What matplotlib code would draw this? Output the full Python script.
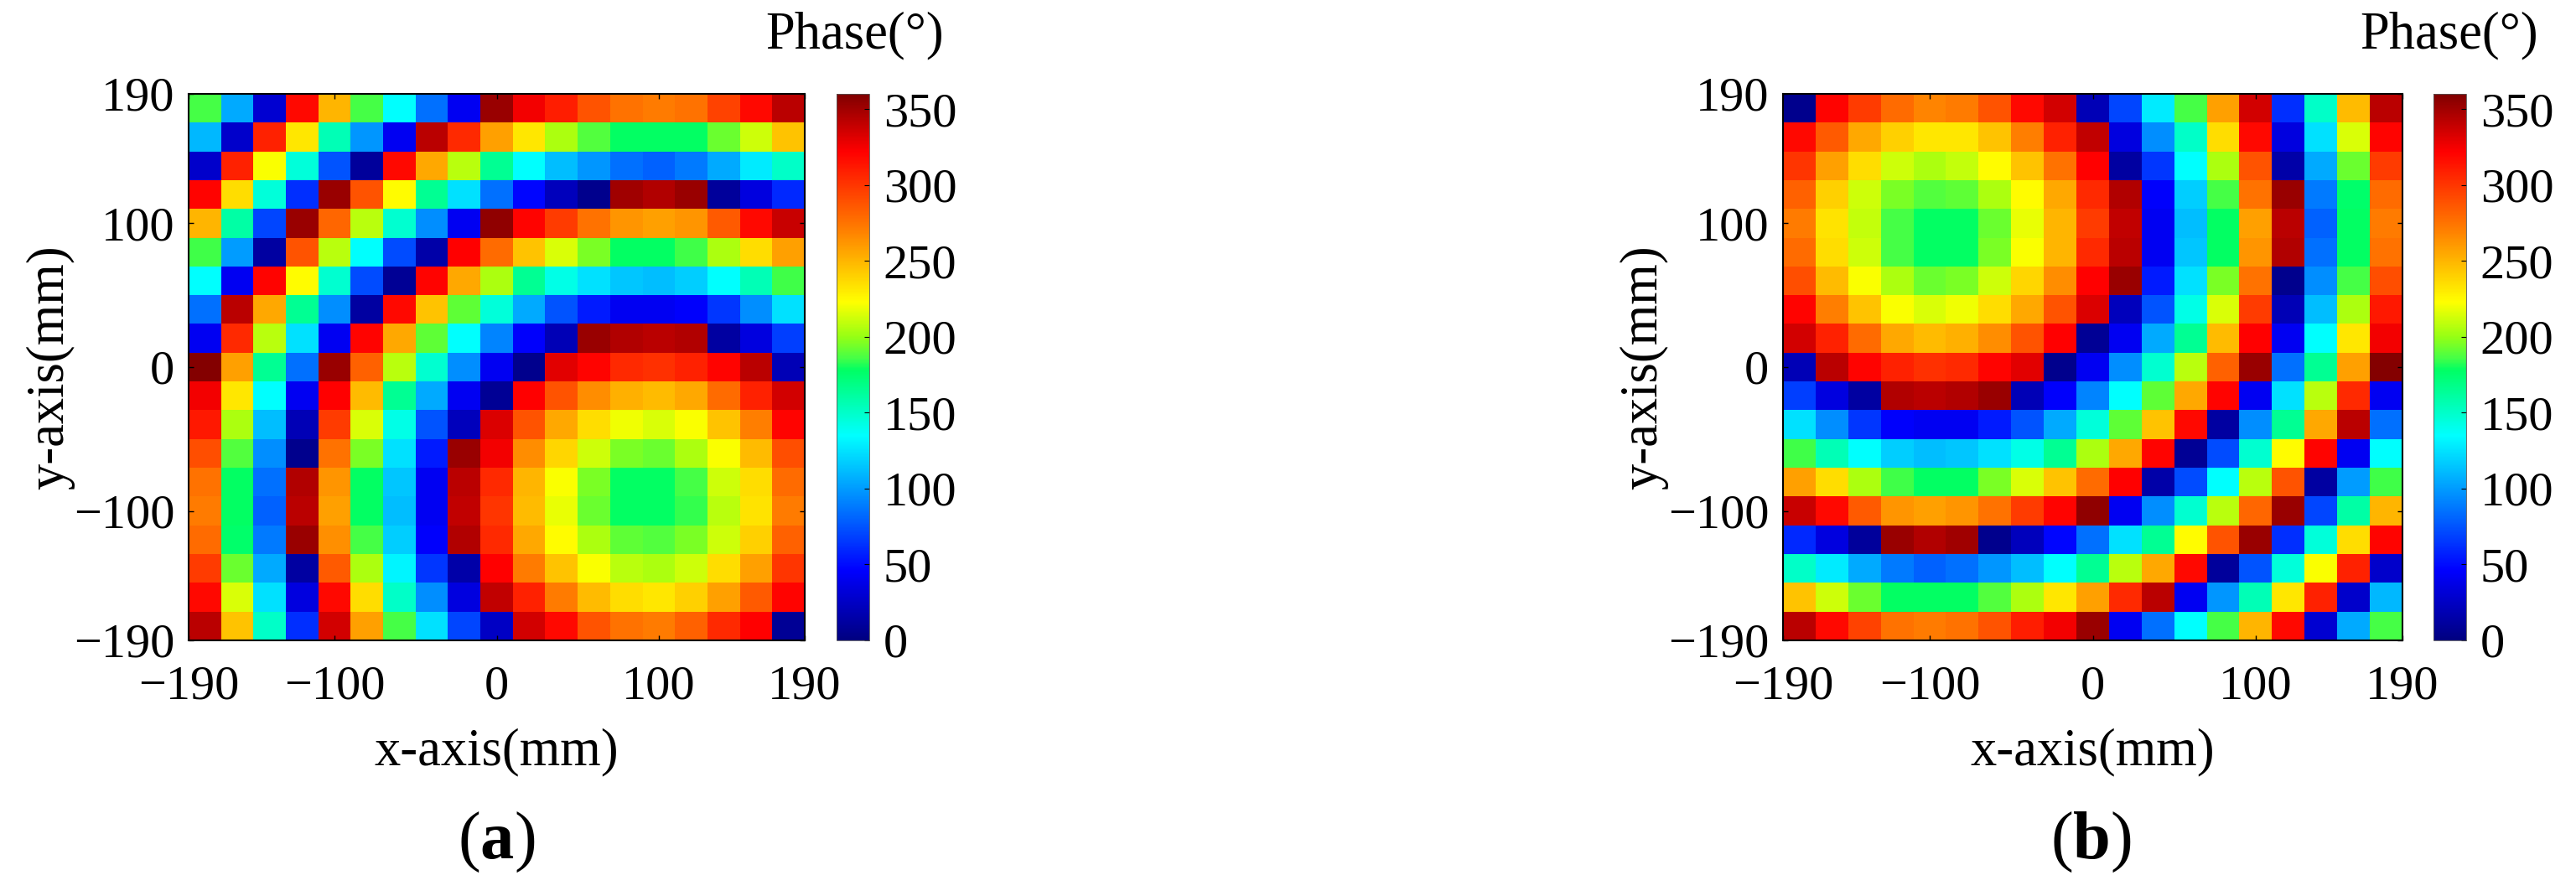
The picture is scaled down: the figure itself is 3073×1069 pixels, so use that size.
import numpy as np
import matplotlib
matplotlib.use("Agg")
import matplotlib.pyplot as plt
from matplotlib.colors import LinearSegmentedColormap

phase_a = [
[186,105,30,318,250,186,135,85,42,352,325,310,288,275,272,275,295,318,342],
[110,28,308,232,155,98,42,342,305,258,232,205,188,178,178,178,192,212,245],
[28,308,222,145,75,10,318,255,208,165,135,112,98,85,80,88,105,128,150],
[320,235,145,62,352,288,224,165,125,85,48,22,5,350,345,352,10,35,60],
[250,160,70,352,280,208,148,95,42,355,320,298,275,262,258,262,285,318,338],
[185,100,12,288,208,135,72,15,322,278,245,215,195,178,178,185,205,235,258],
[135,42,320,224,148,72,8,320,255,205,165,142,125,115,112,118,135,155,185],
[85,342,255,165,95,12,318,245,190,145,105,75,55,42,42,45,65,95,125],
[42,305,208,125,42,320,255,190,135,92,45,20,352,345,342,345,12,35,68],
[358,258,165,85,352,282,208,148,95,42,5,330,320,305,302,308,320,342,20],
[325,232,135,42,322,248,165,105,42,8,322,288,265,252,248,255,278,308,335],
[312,205,112,20,298,215,142,75,22,332,288,255,235,220,215,222,245,270,320],
[290,188,95,5,275,195,125,55,352,325,265,238,212,195,192,205,222,248,290],
[275,178,85,345,262,178,115,42,342,305,250,222,195,178,178,186,212,235,278],
[272,178,80,342,258,178,112,42,340,300,248,218,192,178,178,184,208,233,272],
[278,176,88,352,264,186,118,45,345,305,255,224,205,190,188,195,212,240,282],
[298,192,105,12,285,205,132,65,15,322,272,245,222,208,205,212,235,258,300],
[318,215,125,35,318,235,150,95,35,340,308,272,248,235,232,240,258,285,320],
[342,245,150,62,335,258,186,125,70,25,335,318,288,275,272,282,305,322,8],
]
phase_b = [
[5,320,298,278,268,272,288,318,335,20,70,128,186,258,335,62,150,248,342],
[318,285,255,240,232,232,245,270,308,340,35,95,150,235,318,35,125,215,320],
[300,258,235,212,205,210,224,245,275,322,12,65,135,205,288,15,105,192,298],
[282,240,212,195,188,190,205,224,255,305,345,45,118,186,275,352,88,176,278],
[272,233,210,186,178,178,192,218,250,298,340,42,112,178,258,342,80,178,272],
[278,235,212,186,178,178,195,222,250,305,342,42,115,178,262,345,85,178,275],
[290,248,222,205,192,195,212,238,265,322,352,55,125,195,275,5,95,186,290],
[320,270,245,222,215,220,235,255,288,332,22,75,142,215,298,20,112,205,312],
[335,308,278,255,248,252,265,288,322,8,42,105,165,248,322,42,135,232,325],
[20,342,320,308,302,305,320,330,5,42,95,148,208,282,352,85,165,258,358],
[68,35,12,345,342,345,352,20,45,92,135,190,255,320,42,125,208,305,42],
[125,95,65,45,42,42,55,75,105,145,190,245,318,12,95,165,255,342,85],
[185,155,135,118,112,115,125,142,165,205,255,320,8,72,148,224,320,42,135],
[258,235,205,185,178,178,195,215,245,278,322,15,72,135,208,288,12,100,185],
[338,318,285,262,258,262,275,298,320,355,42,95,148,208,280,352,70,160,250],
[60,35,10,352,345,350,5,22,48,85,125,165,224,288,352,62,145,235,320],
[150,128,105,88,80,85,98,112,135,165,208,255,318,10,75,145,222,308,28],
[245,212,192,178,178,178,188,205,232,258,305,342,42,98,155,232,308,28,110],
[342,318,295,275,272,275,288,310,325,352,42,85,135,186,250,318,30,105,186],
]
axis_ticks = [-190, -100, 0, 100, 190]
axis_labels = ["\u2212190", "\u2212100", "0", "100", "190"]
cbar_ticks = [0, 50, 100, 150, 200, 250, 300, 350]
panel_tags = ["a", "b"]

W, H = 3073, 1069
plt.rcParams["font.family"] = ["Liberation Serif", "DejaVu Serif"]
plt.rcParams["mathtext.fontset"] = "custom"
plt.rcParams["mathtext.rm"] = "Liberation Serif"
plt.rcParams["mathtext.bf"] = "Liberation Serif:bold"

stops = [(0, (0,0,128)), (46, (0,0,255)), (90, (0,128,255)), (135, (0,255,255)),
         (178, (0,255,100)), (186, (70,255,70)), (200, (150,255,20)), (223, (255,255,0)),
         (270, (255,128,0)), (322, (255,0,0)), (360, (128,0,0))]
cmap = LinearSegmentedColormap.from_list("phase", [(v/360, tuple(c/255 for c in col)) for v, col in stops], N=512)

TICK = 42
LABEL = 45

def box(x0, x1, y0, y1):
    return [x0/W, 1-y1/H, (x1-x0)/W, (y1-y0)/H]

fig = plt.figure(figsize=(W/100, H/100), dpi=100, facecolor="white")

def panel(data, ax_x, cb_x, tag, tag_x, phase_x):
    ax = fig.add_axes(box(ax_x[0], ax_x[1], 112, 764))
    im = ax.imshow(np.array(data), cmap=cmap, vmin=0, vmax=360, aspect="auto",
                   interpolation="nearest", extent=[-190, 190, -190, 190], origin="upper")
    ax.set_xticks(axis_ticks, axis_labels)
    ax.set_yticks(axis_ticks, axis_labels)
    ax.tick_params(direction="in", length=4, width=1, labelsize=TICK, top=True, right=True)
    ax.tick_params(axis="x", pad=21)
    ax.tick_params(axis="y", pad=12)
    ax.set_xlabel("x-axis(mm)", fontsize=LABEL)
    ax.set_ylabel("y-axis(mm)", fontsize=LABEL)
    ax.xaxis.set_label_coords(0.5, -0.16)
    ax.yaxis.set_label_coords(-0.185, 0.5)
    for s in ax.spines.values():
        s.set_linewidth(1.5)
    cax = fig.add_axes(box(cb_x[0], cb_x[1], 112, 764))
    cb = fig.colorbar(im, cax=cax, ticks=cbar_ticks)
    cb.ax.tick_params(direction="in", length=4, width=0.8, labelsize=TICK, pad=12)
    cb.outline.set_linewidth(0.6)
    cb.outline.set_edgecolor("#555555")
    fig.text(phase_x/W, 1-42/H, "Phase(\u00b0)", fontsize=LABEL, ha="center", va="center")
    fig.text(tag_x/W, 1-1005/H, rf"($\mathbf{{{tag}}}$)", fontsize=58, ha="center", va="center")

panel(phase_a, (225, 960), (998, 1037), panel_tags[0], 592, 1020)
panel(phase_b, (2127, 2866), (2903, 2942), panel_tags[1], 2494, 2922)
fig.savefig("out.png", dpi=100)
